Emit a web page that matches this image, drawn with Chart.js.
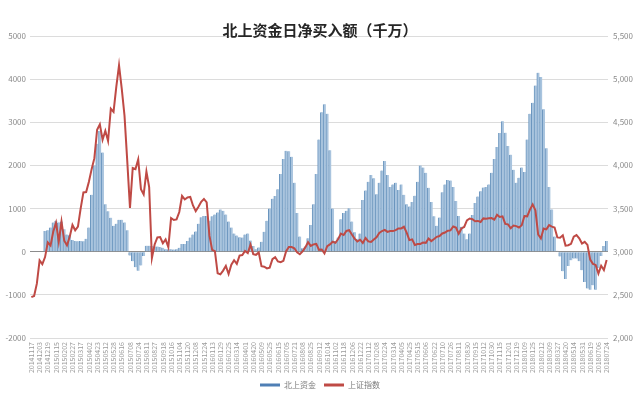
<!DOCTYPE html>
<html>
<head>
<meta charset="utf-8">
<script src="https://cdn.jsdelivr.net/npm/chart.js@4/dist/chart.umd.min.js"></script>
<style>
html,body{margin:0;padding:0;background:#fff;}
#wrap{position:relative;width:640px;height:399px;}
</style>
</head>
<body>
<div id="wrap"><canvas id="c" width="640" height="399"></canvas></div>
<script>
const title = '北上资金日净买入额（千万）';
const seriesNames = ['北上资金', '上证指数'];
const dateLabels = [
'20141117','20141203','20141219','20150115','20150202','20150227','20150317','20150402','20150423','20150512',
'20150528','20150616','20150708','20150724','20150811','20150827','20150918','20151016','20151104','20151120',
'20151208','20151224','20160113','20160129','20160225','20160314','20160401','20160420','20160509','20160525',
'20160615','20160705','20160721','20160808','20160825','20160912','20161014','20161102','20161118','20161206',
'20161222','20170112','20170208','20170224','20170314','20170405','20170425','20170515','20170606','20170622',
'20170710','20170726','20170811','20170830','20170915','20171012','20171030','20171115','20171201','20171219',
'20180109','20180125','20180212','20180309','20180327','20180420','20180514','20180531','20180619','20180706',
'20180724'
];
// 北上资金 (千万), three readings per label interval
const northbound = [
0,0,0,0,0,480,500,560,680,720,
680,700,520,400,380,270,250,240,250,240,
300,560,1320,2000,2500,2800,2300,1100,940,790,
600,650,740,740,680,500,-90,-220,-360,-440,
-320,-100,140,140,130,120,120,110,90,60,
55,60,50,60,90,180,180,250,330,400,
470,650,800,830,830,720,820,860,910,980,
950,860,700,560,420,375,335,330,400,420,
260,130,60,100,230,460,720,1000,1230,1294,
1450,1800,2150,2340,2330,2200,1600,900,350,80,
120,310,620,1100,1800,2600,3230,3420,3200,2350,
1000,250,330,750,900,950,1010,700,450,300,
420,1200,1420,1620,1780,1700,1332,1600,1880,2100,
1780,1500,1560,1600,1430,1560,1320,1100,1050,1150,
1300,1620,2000,1950,1830,1480,1150,820,600,793,
1380,1560,1660,1650,1500,1178,830,580,420,290,
420,850,1130,1280,1400,1486,1500,1560,1830,2150,
2430,2750,3026,2760,2450,2250,1900,1600,1717,1950,
1850,2600,3200,3450,3850,4150,4050,3300,2400,1500,
980,350,23,-110,-450,-631,-330,-200,-160,-160,
-220,-430,-700,-850,-880,-780,-880,-380,-100,130,
250
];
// 上证指数
const shIndex = [
2474,2487,2630, 2900,2856,2938, 3108,3072,3235, 3336,3116,3351, 3128,3075,3173,
3310,3248,3290, 3502,3687,3691, 3810,3957,4084, 4414,4476,4298, 4401,4283,4657,
4620,4910,5160, 4887,4577,4053, 3507,3970,3957, 4070,3725,3664, 3928,3748,2927,
3084,3166,3170, 3098,3142,3053, 3391,3368,3375, 3460,3646,3606, 3630,3635,3536,
3470,3520,3578, 3612,3572,3186, 3022,3007,2750, 2738,2781,2836, 2742,2849,2901,
2859,2955,2961, 3009,2985,3082, 2972,2964,2992, 2832,2827,2806, 2815,2913,2936,
2887,2878,2895, 3006,3054,3054, 3040,2993,2971, 3004,3050,3110, 3068,3085,3090,
3022,3026,2980, 3064,3084,3116, 3103,3147,3210, 3193,3241,3250, 3199,3152,3118,
3139,3102,3158, 3119,3113,3142, 3166,3217,3240, 3253,3230,3240, 3239,3250,3269,
3270,3289,3222, 3134,3143,3079, 3090,3090,3107, 3103,3153,3123, 3147,3173,3182,
3212,3222,3244, 3247,3292,3279, 3208,3269,3287, 3363,3385,3376, 3353,3357,3345,
3386,3381,3388, 3390,3371,3427, 3402,3410,3322, 3317,3272,3303, 3297,3281,3307,
3413,3410,3488, 3548,3481,3200, 3154,3268,3259, 3308,3291,3280, 3166,3163,3190,
3071,3075,3092, 3174,3193,3155, 3095,3115,3079, 2908,2859,2847, 2747,2837,2787,
2905
];
const perLabel = 3;
const categories = northbound.map((_, i) => (i % perLabel === 0 ? (dateLabels[i / perLabel] || '') : ''));

const font = '"Noto Sans CJK SC", "Noto Sans", sans-serif';
const tickColor = '#8a8a8a';

new Chart(document.getElementById('c'), {
  data: {
    labels: categories,
    datasets: [
      {
        type: 'bar', label: seriesNames[0], data: northbound, yAxisID: 'y', order: 2,
        backgroundColor: '#a9c4de', borderColor: '#6a95be',
        borderWidth: { left: 1, right: 0, top: 0, bottom: 0 }, borderSkipped: false,
        barPercentage: 1.0, categoryPercentage: 1.0
      },
      {
        type: 'line', label: seriesNames[1], data: shIndex, yAxisID: 'y1', order: 1,
        borderColor: '#bf4a45', backgroundColor: '#bf4a45', borderWidth: 2,
        pointRadius: 0, tension: 0
      }
    ]
  },
  options: {
    responsive: false,
    animation: false,
    events: [],
    layout: { padding: { left: 0, right: 0, top: 0, bottom: 0 } },
    plugins: {
      title: {
        display: true, text: title, color: '#262626',
        font: { family: font, size: 15, weight: 'bold' },
        padding: { top: 21, bottom: -3 }
      },
      legend: {
        position: 'bottom',
        labels: {
          color: '#7a7a7a', font: { family: font, size: 8 },
          boxWidth: 20, boxHeight: 3, padding: 8,
          sort: (a, b) => a.datasetIndex - b.datasetIndex,
          generateLabels: (chart) => {
            const items = Chart.defaults.plugins.legend.labels.generateLabels(chart);
            items.forEach(it => {
              it.lineWidth = 0;
              it.fillStyle = it.datasetIndex === 0 ? '#4f7fb5' : '#bf4a45';
              it.strokeStyle = it.fillStyle;
            });
            return items;
          }
        }
      },
      tooltip: { enabled: false }
    },
    scales: {
      x: {
        type: 'category',
        grid: { display: false, drawTicks: false },
        border: { display: false },
        ticks: {
          autoSkip: false, maxRotation: 90, minRotation: 90,
          color: '#9a9a9a', font: { family: font, size: 7 }, padding: 4
        },
        afterFit: (s) => { s.height = 35; }
      },
      y: {
        position: 'left', min: -2000, max: 5000,
        ticks: {
          stepSize: 1000, color: tickColor, font: { family: font, size: 8 }, padding: 4,
          callback: (v) => String(v)
        },
        grid: {
          drawTicks: false,
          color: (ctx) => (ctx.tick && ctx.tick.value === 0 ? '#8c8c8c' : '#dcdcdc'),
          lineWidth: 1
        },
        border: { display: false },
        afterFit: (s) => { s.width = 30; }
      },
      y1: {
        position: 'right', min: 2000, max: 5500,
        ticks: {
          stepSize: 500, color: tickColor, font: { family: font, size: 8 }, padding: 5,
          callback: (v) => v.toLocaleString('en-US')
        },
        grid: { display: false, drawTicks: false },
        border: { display: false },
        afterFit: (s) => { s.width = 32; }
      }
    }
  }
});
</script>
</body>
</html>
